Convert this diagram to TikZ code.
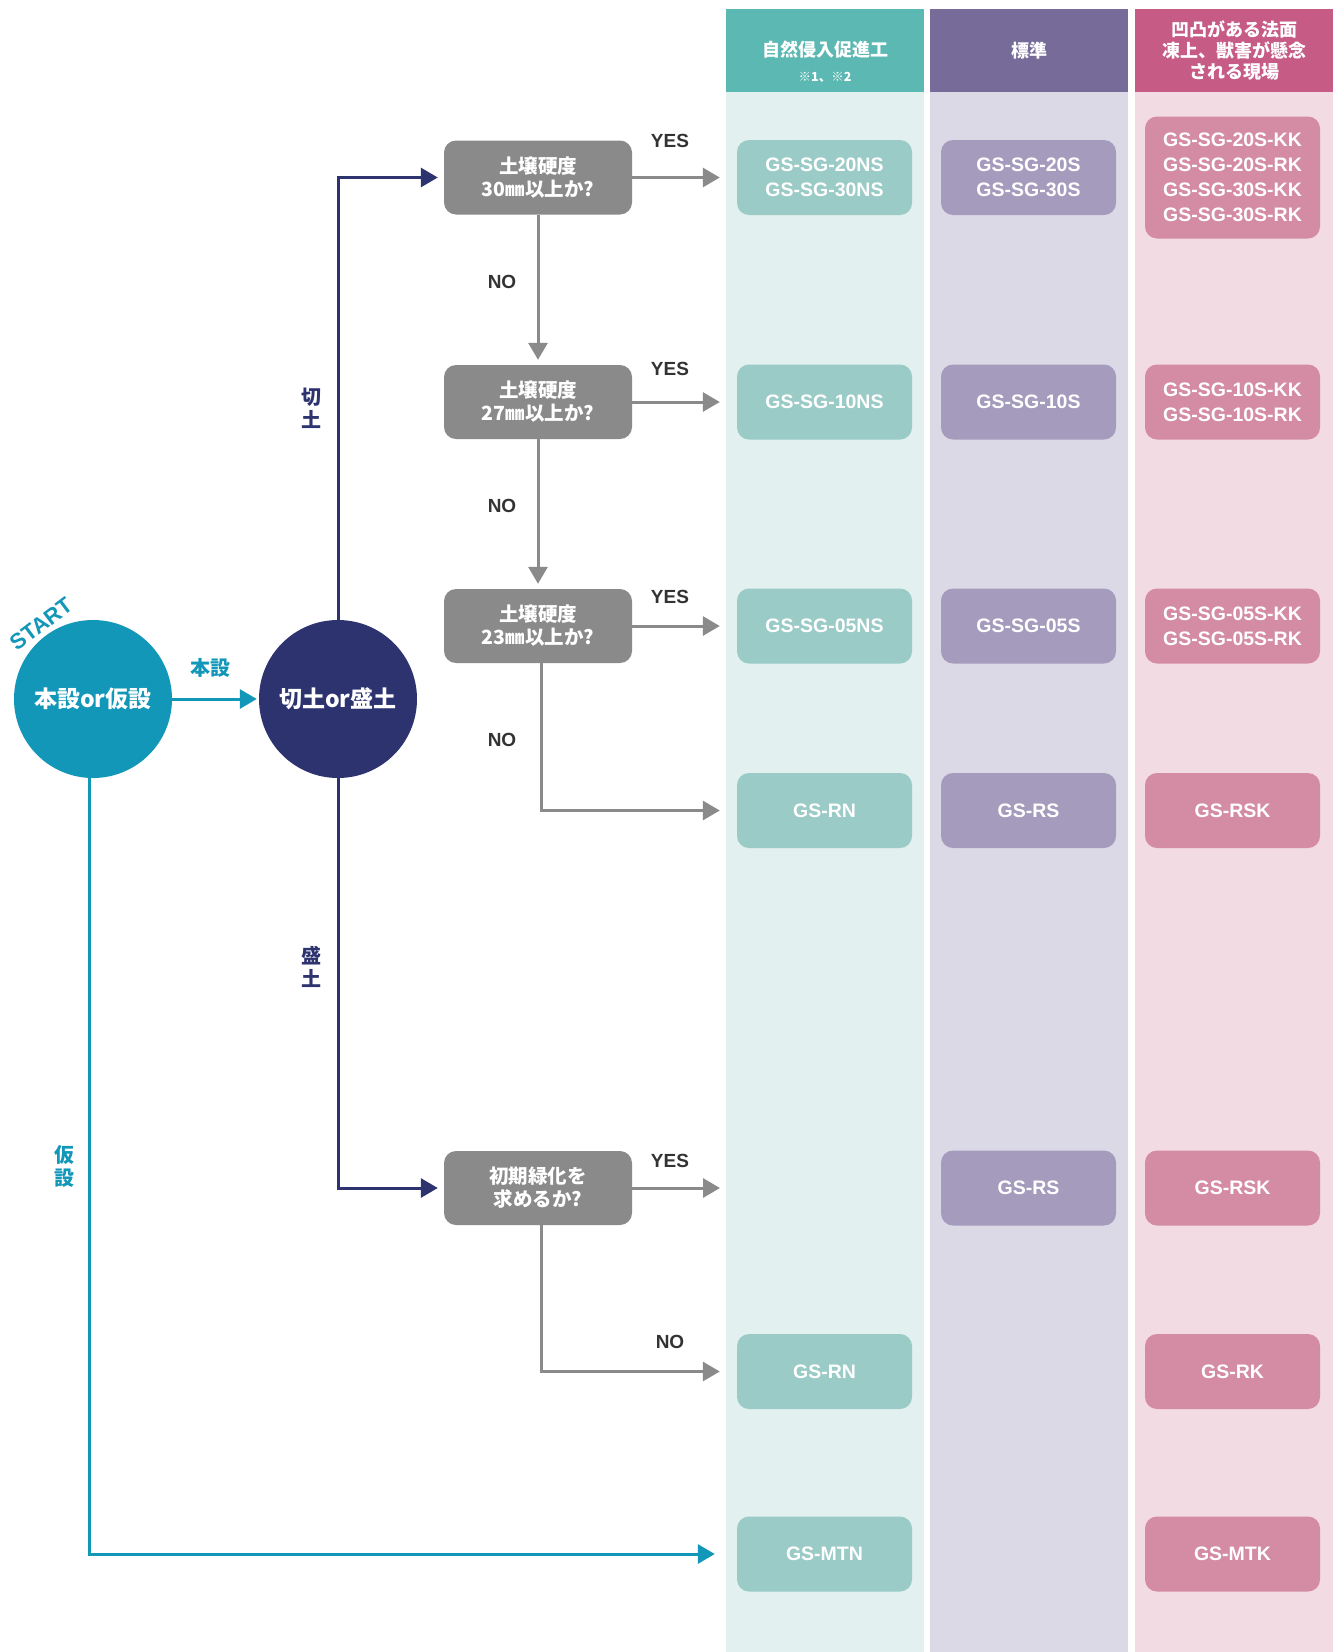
\documentclass[tikz,border=0pt]{standalone}
\usepackage{fontspec}
\setmainfont{Noto Sans CJK JP}
\newfontfamily\latin{Liberation Sans}
\usepackage{tikz}
\usetikzlibrary{arrows.meta,positioning}

\definecolor{tealhead}{HTML}{5CB8B2}
\definecolor{tealbg}{HTML}{E2F0EF}
\definecolor{tealbox}{HTML}{9BCBC6}
\definecolor{purphead}{HTML}{776B99}
\definecolor{purpbg}{HTML}{DCD9E7}
\definecolor{purpbox}{HTML}{A59BBD}
\definecolor{pinkhead}{HTML}{C65B86}
\definecolor{pinkbg}{HTML}{F2DBE3}
\definecolor{pinkbox}{HTML}{D48BA4}
\definecolor{qgray}{HTML}{8A8A8A}
\definecolor{navy}{HTML}{2D336F}
\definecolor{cyanc}{HTML}{1397B9}
\definecolor{ansblack}{HTML}{333333}

\newcommand\fsz[2]{\fontsize{#1}{#2}\selectfont}

\begin{document}
\begin{tikzpicture}[x=1pt, y=-1pt,
  head/.style={minimum width=198pt, minimum height=83pt, inner sep=0pt, text=white, align=center, font=\bfseries\fsz{18}{21}},
  result/.style={rounded corners=12pt, minimum width=175pt, minimum height=75pt, inner sep=0pt, text=white, align=center, font=\latin\bfseries\fsz{19.5}{25}},
  question/.style={fill=qgray, rounded corners=12pt, minimum width=188pt, minimum height=74pt, inner sep=0pt, text=white, align=center, font=\bfseries\fsz{19.5}{23}},
  answer/.style={text=ansblack, font=\latin\bfseries\fsz{19}{19}},
  hub/.style={circle, minimum size=158pt, inner sep=0pt, text=white, font=\bfseries\fsz{23}{23}},
  flow/.style={line width=3pt, -{Triangle[length=17pt,width=19pt]}}]
  \useasboundingbox (0,0) rectangle (1338,1652);

  % columns
  \fill[tealbg] (726,92) rectangle (924,1652);
  \fill[purpbg] (930,92) rectangle (1128,1652);
  \fill[pinkbg] (1135,92) rectangle (1333,1652);
  \node[head, fill=tealhead] (htl) at (825,50.5) {};
  \node[text=white, font=\bfseries\fsz{18}{21}] (htltxt) at (825,50) {自然侵入促進工};
  \node[text=white, font=\bfseries\fsz{12.5}{14}] (htlnote) at (825,77) {※1、※2};
  \node[head, fill=purphead] (hpu) at (1029,50.5) {標準};
  \node[head, fill=pinkhead] (hpk) at (1234,50.5) {凹凸がある法面\\凍上、獣害が懸念\\される現場};

  % start
  \node[hub, fill=cyanc] (start) at (93,699) {本設or仮設};
  \node[rotate=37, text=cyanc, font=\latin\bfseries\fsz{22}{22}] (starttxt) at (41,624) {START};
  \node[hub, fill=navy] (cutfill) at (338,699) {切土or盛土};

  % questions
  \node[question] (q1) at (538,177.5) {土壌硬度\\30㎜以上か?};
  \node[question] (q2) at (538,402) {土壌硬度\\27㎜以上か?};
  \node[question] (q3) at (538,626) {土壌硬度\\23㎜以上か?};
  \node[question] (q4) at (538,1188) {初期緑化を\\求めるか?};

  % results
  \node[result, fill=tealbox] (r1a) at (824.5,177.5) {GS-SG-20NS\\GS-SG-30NS};
  \node[result, fill=purpbox] (r1b) at (1028.5,177.5) {GS-SG-20S\\GS-SG-30S};
  \node[result, fill=pinkbox, minimum height=122pt] (r1c) at (1232.5,177.5) {GS-SG-20S-KK\\GS-SG-20S-RK\\GS-SG-30S-KK\\GS-SG-30S-RK};
  \node[result, fill=tealbox] (r2a) at (824.5,402) {GS-SG-10NS};
  \node[result, fill=purpbox] (r2b) at (1028.5,402) {GS-SG-10S};
  \node[result, fill=pinkbox] (r2c) at (1232.5,402) {GS-SG-10S-KK\\GS-SG-10S-RK};
  \node[result, fill=tealbox] (r3a) at (824.5,626) {GS-SG-05NS};
  \node[result, fill=purpbox] (r3b) at (1028.5,626) {GS-SG-05S};
  \node[result, fill=pinkbox] (r3c) at (1232.5,626) {GS-SG-05S-KK\\GS-SG-05S-RK};
  \node[result, fill=tealbox] (r4a) at (824.5,810.5) {GS-RN};
  \node[result, fill=purpbox] (r4b) at (1028.5,810.5) {GS-RS};
  \node[result, fill=pinkbox] (r4c) at (1232.5,810.5) {GS-RSK};
  \node[result, fill=purpbox] (r5b) at (1028.5,1188) {GS-RS};
  \node[result, fill=pinkbox] (r5c) at (1232.5,1188) {GS-RSK};
  \node[result, fill=tealbox] (r6a) at (824.5,1371.5) {GS-RN};
  \node[result, fill=pinkbox] (r6c) at (1232.5,1371.5) {GS-RK};
  \node[result, fill=tealbox] (r7a) at (824.5,1554) {GS-MTN};
  \node[result, fill=pinkbox] (r7c) at (1232.5,1554) {GS-MTK};
  \coordinate (y5end) at (720,1188);

  % connectors
  \draw[flow, cyanc, shorten >=2pt] (start) -- (cutfill);
  \draw[flow, cyanc, shorten >=22pt] ([xshift=-4pt]start.south) |- (r7a);
  \draw[flow, navy, shorten >=6pt] (cutfill.north) |- (q1);
  \draw[flow, navy, shorten >=6pt] (cutfill.south) |- (q4);
  \draw[flow, qgray, shorten >=17pt] (q1) -- (r1a);
  \draw[flow, qgray, shorten >=17pt] (q2) -- (r2a);
  \draw[flow, qgray, shorten >=17pt] (q3) -- (r3a);
  \draw[flow, qgray] (q4) -- (y5end);
  \draw[flow, qgray, shorten >=5pt] (q1) -- (q2);
  \draw[flow, qgray, shorten >=5pt] (q2) -- (q3);
  \draw[flow, qgray, shorten >=17pt] ([xshift=3pt]q3.south) |- (r4a);
  \draw[flow, qgray, shorten >=17pt] ([xshift=3pt]q4.south) |- (r6a);

  % labels
  \node[text=cyanc, font=\bfseries\fsz{20}{20}] (lmain) at (210,668) {本設};
  \node[text=cyanc, align=center, font=\bfseries\fsz{20}{23}] (ltemp) at (64,1166) {仮\\設};
  \node[text=navy, align=center, font=\bfseries\fsz{20}{23}] (lcut) at (311,408) {切\\土};
  \node[text=navy, align=center, font=\bfseries\fsz{20}{23}] (lfill) at (311,967) {盛\\土};
  \node[answer] (yes1) at (670,141) {YES};
  \node[answer] (yes2) at (670,369) {YES};
  \node[answer] (yes3) at (670,597) {YES};
  \node[answer] (yes5) at (670,1161) {YES};
  \node[answer] (no1) at (502,282) {NO};
  \node[answer] (no2) at (502,506) {NO};
  \node[answer] (no3) at (502,740) {NO};
  \node[answer] (no6) at (670,1342) {NO};
\end{tikzpicture}
\end{document}
